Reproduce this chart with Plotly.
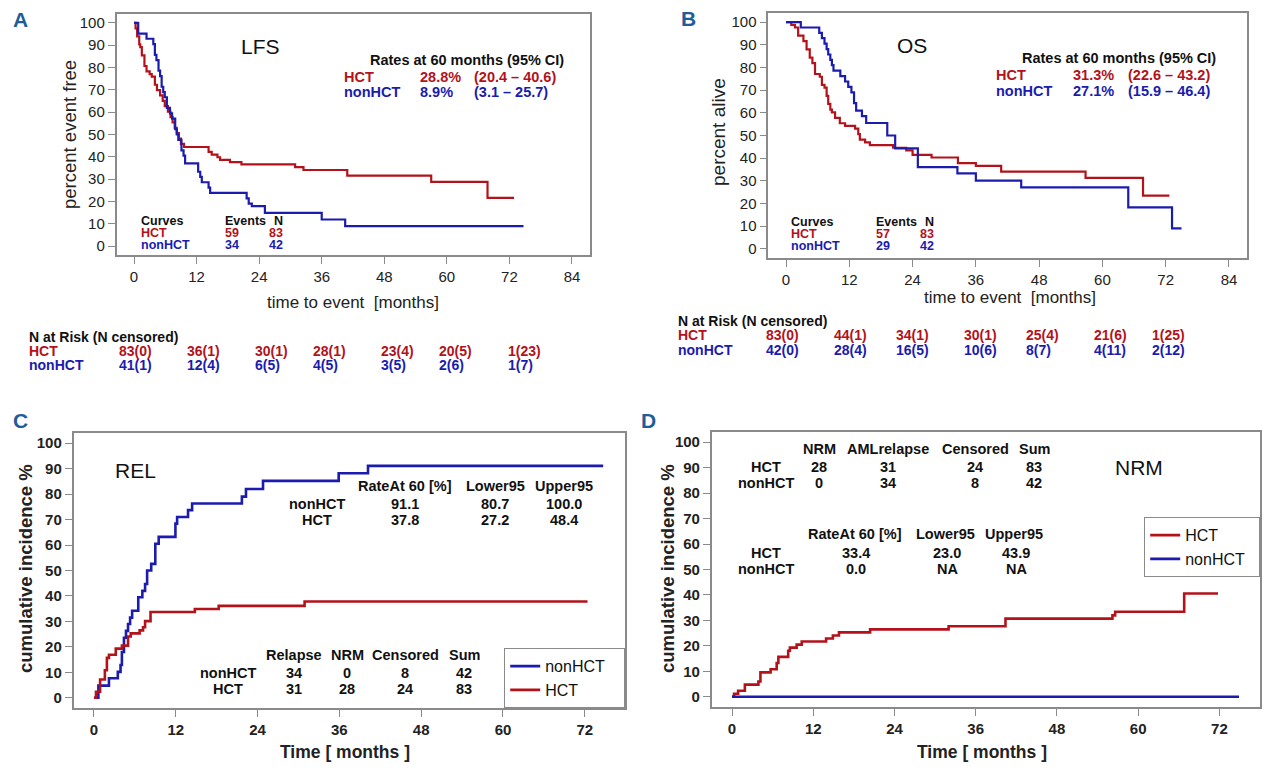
import plotly.graph_objects as go

W, H = 1267, 772
RED = "#B3121A"
BLUE = "#1B1BAE"
LETTER = "#1F5D99"
GRID = "#8a8a8a"
FONT = "Liberation Sans, Arial, Helvetica, sans-serif"

# ---------------- data ----------------
groups = ["HCT", "nonHCT"]

# A: leukemia-free survival (%), step curves
lfs_hct_t = [0, 0.3, 0.6, 1.0, 1.2, 1.5, 2.0, 2.4, 3.0, 3.4, 4.0, 4.4, 5.0, 5.5, 5.9, 6.5, 7.0, 7.4, 7.8, 8.2,
             8.6, 9.0, 9.6, 14.3, 14.9, 16.0, 16.5, 18.4, 20.6, 30.9, 32.5, 40.9, 57.0, 67.8]
lfs_hct_s = [100, 97.6, 94.0, 90.4, 89.2, 85.5, 80.7, 78.3, 77.1, 75.9, 72.3, 69.9, 67.5, 65.1, 62.7, 60.2, 57.8,
             55.4, 53.0, 50.6, 48.2, 45.8, 44.4, 42.2, 41.0, 39.8, 38.6, 37.6, 36.6, 35.4, 34.1, 31.6, 28.8, 21.6]
lfs_hct_end = 72.9
lfs_non_t = [0, 0.8, 2.4, 3.7, 4.0, 4.3, 4.7, 5.0, 5.3, 5.6, 5.9, 6.3, 6.9, 7.3, 7.9, 8.2, 8.5, 9.1, 9.5, 9.8,
             12.3, 12.7, 13.0, 14.3, 14.6, 21.6, 22.0, 22.6, 25.1, 36.0, 40.5]
lfs_non_s = [100, 95.2, 92.9, 90.5, 85.7, 83.3, 78.6, 76.2, 71.4, 69.0, 66.7, 61.9, 59.5, 57.1, 52.4, 50.0, 47.6,
             42.9, 40.5, 37.1, 33.3, 31.0, 28.6, 26.2, 23.8, 21.4, 19.0, 17.9, 14.9, 11.9, 8.9]
lfs_non_end = 74.7
lfs_rate60 = ["28.8%", "8.9%"]
lfs_ci = ["(20.4 \u2013 40.6)", "(3.1 \u2013 25.7)"]
lfs_events = ["59", "34"]
lfs_n = ["83", "42"]
lfs_risk_hct = ["83(0)", "36(1)", "30(1)", "28(1)", "23(4)", "20(5)", "1(23)"]
lfs_risk_non = ["41(1)", "12(4)", "6(5)", "4(5)", "3(5)", "2(6)", "1(7)"]

# B: overall survival (%)
os_hct_t = [0, 1.0, 1.7, 2.3, 3.3, 3.9, 4.5, 5.0, 5.5, 6.4, 6.8, 7.3, 7.7, 8.0, 8.4, 8.7, 9.3, 10.2, 11.2, 13.1,
            13.7, 14.0, 15.0, 15.9, 20.3, 22.8, 24.0, 27.6, 32.6, 36.0, 40.8, 56.8, 67.7]
os_hct_s = [100, 98.8, 97.6, 94.0, 91.6, 88.0, 84.3, 81.9, 77.1, 75.9, 72.3, 71.1, 67.5, 63.9, 61.4, 60.2, 57.8,
            55.4, 54.2, 53.0, 50.6, 48.2, 47.0, 45.8, 44.6, 43.4, 41.5, 40.3, 37.8, 36.6, 34.1, 31.3, 23.5]
os_hct_end = 72.7
os_non_t = [0, 2.8, 6.3, 6.8, 7.3, 7.7, 8.0, 8.4, 8.7, 9.0, 10.3, 11.2, 11.8, 12.4, 12.9, 13.3, 14.4, 15.2, 19.2,
            20.7, 25.0, 32.5, 36.0, 44.6, 64.9, 73.2]
os_non_s = [100, 97.6, 95.2, 92.9, 90.5, 88.1, 85.7, 83.3, 81.0, 78.6, 76.2, 73.8, 71.4, 69.0, 64.3, 61.0, 58.5,
            55.5, 50.0, 44.3, 36.1, 33.3, 30.1, 27.1, 18.3, 9.1]
os_non_end = 75.0
os_rate60 = ["31.3%", "27.1%"]
os_ci = ["(22.6 \u2013 43.2)", "(15.9 \u2013 46.4)"]
os_events = ["57", "29"]
os_n = ["83", "42"]
os_risk_hct = ["83(0)", "44(1)", "34(1)", "30(1)", "25(4)", "21(6)", "1(25)"]
os_risk_non = ["42(0)", "28(4)", "16(5)", "10(6)", "8(7)", "4(11)", "2(12)"]

# C: cumulative incidence of relapse (%)
rel_non_t = [0, 0.65, 2.2, 3.5, 3.9, 4.1, 4.4, 4.7, 5.0, 5.3, 5.6, 6.5, 7.1, 7.5, 7.8, 8.4, 9.0, 9.5, 11.95,
             12.2, 13.8, 14.4, 21.7, 22.3, 24.8, 35.9, 40.2]
rel_non_v = [0, 4.8, 7.7, 10.2, 12.9, 18.0, 23.6, 26.3, 29.0, 31.5, 34.2, 39.5, 42.0, 44.7, 50.0, 52.6, 60.5,
             63.2, 68.4, 71.0, 73.7, 76.3, 79.0, 82.0, 85.2, 88.2, 91.1]
rel_non_end = 74.7
rel_hct_t = [0, 0.3, 0.9, 1.6, 1.9, 2.2, 3.2, 4.1, 5.0, 5.4, 6.7, 7.2, 7.5, 8.3, 14.8, 18.3, 30.9]
rel_hct_v = [0, 2.4, 7.2, 10.8, 15.7, 16.9, 19.3, 20.5, 24.1, 25.3, 26.5, 27.7, 30.1, 33.7, 34.9, 36.1, 37.8]
rel_hct_end = 72.4
rel_groups = ["nonHCT", "HCT"]
rel_rate60 = ["91.1", "37.8"]
rel_lower95 = ["80.7", "27.2"]
rel_upper95 = ["100.0", "48.4"]
rel_relapse = ["34", "31"]
rel_nrm = ["0", "28"]
rel_censored = ["8", "24"]
rel_sum = ["42", "83"]

# D: cumulative incidence of non-relapse mortality (%)
nrm_hct_t = [0, 0.3, 0.9, 1.9, 3.9, 4.2, 5.7, 6.6, 6.85, 8.3, 8.55, 9.55, 10.3, 13.9, 14.9, 15.8, 20.4, 32.0,
             40.4, 56.2, 56.6, 66.8]
nrm_hct_v = [0, 1.2, 2.4, 4.8, 6.0, 9.6, 10.8, 13.3, 15.7, 18.1, 19.3, 20.5, 21.7, 22.9, 24.1, 25.3, 26.5, 27.7,
             30.7, 32.0, 33.4, 40.6]
nrm_hct_end = 71.8
nrm_non_t = [0]
nrm_non_v = [0]
nrm_non_end = 74.9
nrm_groups = ["HCT", "nonHCT"]
nrm_nrm = ["28", "0"]
nrm_amlrelapse = ["31", "34"]
nrm_censored = ["24", "8"]
nrm_sum = ["83", "42"]
nrm_rate60 = ["33.4", "0.0"]
nrm_lower95 = ["23.0", "NA"]
nrm_upper95 = ["43.9", "NA"]

km_ticks_x = [0, 12, 24, 36, 48, 60, 72, 84]
ci_ticks_x = [0, 12, 24, 36, 48, 60, 72]
ticks_y = list(range(0, 101, 10))

# ---------------- helpers ----------------
def px(x):
    return x / W


def py(y):
    return 1 - y / H


fig = go.Figure()
NB = "\u00a0"


def add_step(t, v, end, color, name, ax, width, legend=None):
    xs = list(t) + [end]
    ys = list(v) + [v[-1]]
    fig.add_trace(go.Scatter(
        x=xs, y=ys, mode="lines", name=name,
        line=dict(color=color, width=width, shape="hv"),
        xaxis="x" + ax, yaxis="y" + ax,
        showlegend=legend is not None, legend=legend or "legend",
        hoverinfo="skip"))


add_step(lfs_hct_t, lfs_hct_s, lfs_hct_end, RED, "HCT", "", 2.2)
add_step(lfs_non_t, lfs_non_s, lfs_non_end, BLUE, "nonHCT", "", 2.2)
add_step(os_hct_t, os_hct_s, os_hct_end, RED, "HCT", "2", 2.2)
add_step(os_non_t, os_non_s, os_non_end, BLUE, "nonHCT", "2", 2.2)
add_step(rel_non_t, rel_non_v, rel_non_end, BLUE, "nonHCT" + NB * 3, "3", 2.6, "legend")
add_step(rel_hct_t, rel_hct_v, rel_hct_end, RED, "HCT", "3", 2.6, "legend")
add_step(nrm_hct_t, nrm_hct_v, nrm_hct_end, RED, "HCT", "4", 2.6, "legend2")
add_step(nrm_non_t, nrm_non_v, nrm_non_end, BLUE, "nonHCT" + NB * 2, "4", 2.6, "legend2")

anns = []


def ann(text, x, y, size=14, color="#111", bold=False, xanchor="center", angle=0):
    t = "<b>%s</b>" % text if bold else text
    anns.append(dict(text=t, x=px(x), y=py(y), xref="paper", yref="paper",
                     xanchor=xanchor, yanchor="middle", showarrow=False, textangle=angle,
                     borderpad=0,
                     font=dict(family=FONT, size=size, color=color)))


gcol = [RED, BLUE]

# Panel letters
for letter, lx, ly in [("A", 20, 20), ("B", 688, 19), ("C", 20, 420), ("D", 648, 420)]:
    ann(letter, lx, ly, 21, LETTER, True)

# ---- Panel A ----
RS = 14.5
ann("LFS", 260, 47, 21)
ann("Rates at 60 months (95% CI)", 369, 60, RS, bold=True, xanchor="left")
for i, yy in enumerate([77, 92]):
    ann(groups[i], 343, yy, RS, gcol[i], True, "left")
    ann(lfs_rate60[i], 419, yy, RS, gcol[i], True, "left")
    ann(lfs_ci[i], 473, yy, RS, gcol[i], True, "left")
CS = 12.5
ann("Curves", 140, 221, CS, bold=True, xanchor="left")
ann("Events", 224, 221, CS, bold=True, xanchor="left")
ann("N", 284, 221, CS, bold=True, xanchor="right")
for i, yy in enumerate([233, 245]):
    ann(groups[i], 140, yy, CS, gcol[i], True, "left")
    ann(lfs_events[i], 224, yy, CS, gcol[i], True, "left")
    ann(lfs_n[i], 284, yy, CS, gcol[i], True, "right")
ann("percent event free", 70, 135, 18.5, "#222", angle=-90)
ann("time to event  [months]", 353, 302, 17, "#222")
NS = 14
ann("N at Risk (N censored)", 28, 337, NS, bold=True, xanchor="left")
lfs_risk_x = [118, 186, 254, 312, 380, 438, 507]
for i, (yy, row) in enumerate([(351, lfs_risk_hct), (365, lfs_risk_non)]):
    ann(groups[i], 28, yy, NS, gcol[i], True, "left")
    for xx, txt in zip(lfs_risk_x, row):
        ann(txt, xx, yy, NS, gcol[i], True, "left")

# ---- Panel B ----
ann("OS", 912, 46, 21)
ann("Rates at 60 months (95% CI)", 1021, 58, RS, bold=True, xanchor="left")
for i, yy in enumerate([75, 91]):
    ann(groups[i], 995, yy, RS, gcol[i], True, "left")
    ann(os_rate60[i], 1072, yy, RS, gcol[i], True, "left")
    ann(os_ci[i], 1127, yy, RS, gcol[i], True, "left")
ann("Curves", 790, 222, CS, bold=True, xanchor="left")
ann("Events", 875, 222, CS, bold=True, xanchor="left")
ann("N", 935, 222, CS, bold=True, xanchor="right")
for i, yy in enumerate([234, 246]):
    ann(groups[i], 790, yy, CS, gcol[i], True, "left")
    ann(os_events[i], 875, yy, CS, gcol[i], True, "left")
    ann(os_n[i], 935, yy, CS, gcol[i], True, "right")
ann("percent alive", 719, 132, 19, "#222", angle=-90)
ann("time to event  [months]", 1010, 297, 17, "#222")
ann("N at Risk (N censored)", 677, 321, NS, bold=True, xanchor="left")
os_risk_x = [765, 833, 895, 963, 1025, 1093, 1151]
for i, (yy, row) in enumerate([(335, os_risk_hct), (350, os_risk_non)]):
    ann(groups[i], 677, yy, NS, gcol[i], True, "left")
    for xx, txt in zip(os_risk_x, row):
        ann(txt, xx, yy, NS, gcol[i], True, "left")

# ---- Panel C ----
TS = 14.5
ann("REL", 135, 471, 21)
for txt, xx in [("RateAt 60 [%]", 405), ("Lower95", 495), ("Upper95", 564)]:
    ann(txt, xx, 486, TS, bold=True)
for i, yy in enumerate([504, 520]):
    ann(rel_groups[i], 317, yy, TS, bold=True)
    ann(rel_rate60[i], 405, yy, TS, bold=True)
    ann(rel_lower95[i], 495, yy, TS, bold=True)
    ann(rel_upper95[i], 564, yy, TS, bold=True)
for txt, xx in [("Relapse", 294), ("NRM", 347), ("Censored", 405), ("Sum", 464)]:
    ann(txt, xx, 655, TS, bold=True)
for i, yy in enumerate([673, 689]):
    ann(rel_groups[i], 228, yy, TS, bold=True)
    ann(rel_relapse[i], 294, yy, TS, bold=True)
    ann(rel_nrm[i], 347, yy, TS, bold=True)
    ann(rel_censored[i], 405, yy, TS, bold=True)
    ann(rel_sum[i], 464, yy, TS, bold=True)
ann("cumulative incidence %", 25, 569, 18.5, "#222", True, angle=-90)
ann("Time [ months ]", 345, 752, 17.5, "#222", True)

# ---- Panel D ----
ann("NRM", 1139, 467, 21)
for txt, xx in [("NRM", 819), ("AMLrelapse", 888), ("Censored", 975), ("Sum", 1034)]:
    ann(txt, xx, 449, TS, bold=True)
for i, yy in enumerate([467, 483]):
    ann(nrm_groups[i], 766, yy, TS, bold=True)
    ann(nrm_nrm[i], 819, yy, TS, bold=True)
    ann(nrm_amlrelapse[i], 888, yy, TS, bold=True)
    ann(nrm_censored[i], 975, yy, TS, bold=True)
    ann(nrm_sum[i], 1034, yy, TS, bold=True)
for txt, xx in [("RateAt 60 [%]", 855), ("Lower95", 945), ("Upper95", 1014)]:
    ann(txt, xx, 534, TS, bold=True)
for i, yy in enumerate([553, 569]):
    ann(nrm_groups[i], 766, yy, TS, bold=True)
    ann(nrm_rate60[i], 856, yy, TS, bold=True)
    ann(nrm_lower95[i], 947, yy, TS, bold=True)
    ann(nrm_upper95[i], 1016, yy, TS, bold=True)
ann("cumulative incidence %", 667, 569, 18.5, "#222", True, angle=-90)
ann("Time [ months ]", 982, 752, 17.5, "#222", True)


def xax(dom, rng, ticks, bold):
    return dict(domain=[px(dom[0]), px(dom[1])], range=rng, tickvals=ticks, showgrid=False, zeroline=False,
                showline=True, mirror=True, linecolor=GRID, linewidth=1.5, ticks="outside", ticklen=7,
                tickcolor=GRID, tickwidth=1.2,
                tickfont=dict(family=FONT, size=15, color="#222", weight="bold" if bold else "normal"))


def yax(dom, bold):
    return dict(domain=[py(dom[1]), py(dom[0])], range=[-4, 104], tickvals=ticks_y, showgrid=False,
                zeroline=False, showline=True, mirror=True, linecolor=GRID, linewidth=1.5, ticks="outside",
                ticklen=7, tickcolor=GRID, tickwidth=1.2,
                tickfont=dict(family=FONT, size=15, color="#222", weight="bold" if bold else "normal"))


layout = dict(
    width=W, height=H, margin=dict(l=0, r=0, t=0, b=0), autosize=False,
    paper_bgcolor="white", plot_bgcolor="white", font=dict(family=FONT),
    xaxis=dict(xax((116.5, 589.5), [-3.36, 87.36], km_ticks_x, False), anchor="y"),
    yaxis=dict(yax((14, 255), False), anchor="x"),
    xaxis2=dict(xax((768.3, 1246.7), [-3.36, 87.36], km_ticks_x, False), anchor="y2"),
    yaxis2=dict(yax((13, 258), False), anchor="x2"),
    xaxis3=dict(xax((73.5, 625), [-3, 77.9], ci_ticks_x, True), anchor="y3"),
    yaxis3=dict(yax((433, 708), True), anchor="x3"),
    xaxis4=dict(xax((711.7, 1260), [-3, 78], ci_ticks_x, True), anchor="y4"),
    yaxis4=dict(yax((432, 707), True), anchor="x4"),
    legend=dict(x=px(625), xanchor="right", y=py(708), yanchor="bottom", bgcolor="white", bordercolor=GRID,
                borderwidth=1.2, font=dict(family=FONT, size=16, color="#111"), tracegroupgap=0),
    legend2=dict(x=px(1260), xanchor="right", y=py(517), yanchor="top", bgcolor="white", bordercolor=GRID,
                 borderwidth=1.2, font=dict(family=FONT, size=16, color="#111"), tracegroupgap=0),
    annotations=anns,
)
fig.update_layout(**layout)
fig.write_html("out.html", config={"displayModeBar": False},
               post_script="document.body.style.margin='0';document.body.style.padding='0';")
